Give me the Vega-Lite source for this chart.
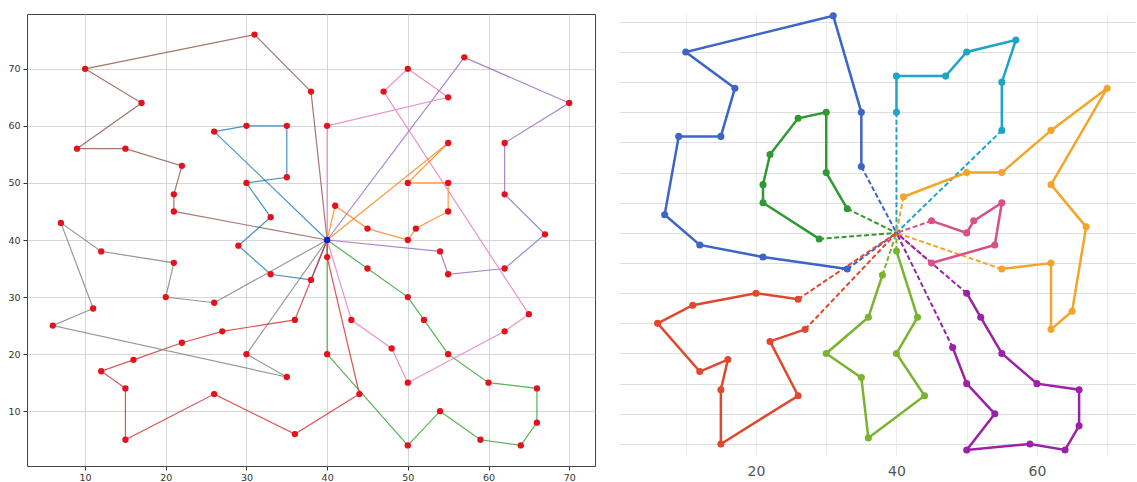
{
  "$schema": "https://vega.github.io/schema/vega-lite/v6.json",
  "padding": {"left": 7, "top": 10, "right": 0, "bottom": 0},
  "background": "white",
  "bounds": "flush",
  "spacing": 24,
  "resolve": {"scale": {"color": "independent"}},
  "config": {
    "font": "DejaVu Sans",
    "axis": {"title": null}
  },
  "datasets": {
    "depot": [{"x": 40, "y": 40}],
    "leftStops": [
      {"route": "r1", "ord": 1, "x": 26, "y": 59},
      {"route": "r1", "ord": 2, "x": 30, "y": 60},
      {"route": "r1", "ord": 3, "x": 35, "y": 60},
      {"route": "r1", "ord": 4, "x": 35, "y": 51},
      {"route": "r1", "ord": 5, "x": 30, "y": 50},
      {"route": "r1", "ord": 6, "x": 33, "y": 44},
      {"route": "r1", "ord": 7, "x": 29, "y": 39},
      {"route": "r1", "ord": 8, "x": 33, "y": 34},
      {"route": "r1", "ord": 9, "x": 38, "y": 33},
      {"route": "r2", "ord": 1, "x": 41, "y": 46},
      {"route": "r2", "ord": 2, "x": 45, "y": 42},
      {"route": "r2", "ord": 3, "x": 50, "y": 40},
      {"route": "r2", "ord": 4, "x": 51, "y": 42},
      {"route": "r2", "ord": 5, "x": 55, "y": 45},
      {"route": "r2", "ord": 6, "x": 55, "y": 50},
      {"route": "r2", "ord": 7, "x": 50, "y": 50},
      {"route": "r2", "ord": 8, "x": 55, "y": 57},
      {"route": "r3", "ord": 1, "x": 45, "y": 35},
      {"route": "r3", "ord": 2, "x": 50, "y": 30},
      {"route": "r3", "ord": 3, "x": 52, "y": 26},
      {"route": "r3", "ord": 4, "x": 55, "y": 20},
      {"route": "r3", "ord": 5, "x": 60, "y": 15},
      {"route": "r3", "ord": 6, "x": 66, "y": 14},
      {"route": "r3", "ord": 7, "x": 66, "y": 8},
      {"route": "r3", "ord": 8, "x": 64, "y": 4},
      {"route": "r3", "ord": 9, "x": 59, "y": 5},
      {"route": "r3", "ord": 10, "x": 54, "y": 10},
      {"route": "r3", "ord": 11, "x": 50, "y": 4},
      {"route": "r3", "ord": 12, "x": 40, "y": 20},
      {"route": "r4", "ord": 1, "x": 36, "y": 26},
      {"route": "r4", "ord": 2, "x": 27, "y": 24},
      {"route": "r4", "ord": 3, "x": 22, "y": 22},
      {"route": "r4", "ord": 4, "x": 16, "y": 19},
      {"route": "r4", "ord": 5, "x": 12, "y": 17},
      {"route": "r4", "ord": 6, "x": 15, "y": 14},
      {"route": "r4", "ord": 7, "x": 15, "y": 5},
      {"route": "r4", "ord": 8, "x": 26, "y": 13},
      {"route": "r4", "ord": 9, "x": 36, "y": 6},
      {"route": "r4", "ord": 10, "x": 44, "y": 13},
      {"route": "r4", "ord": 11, "x": 40, "y": 37},
      {"route": "r5", "ord": 1, "x": 57, "y": 72},
      {"route": "r5", "ord": 2, "x": 70, "y": 64},
      {"route": "r5", "ord": 3, "x": 62, "y": 57},
      {"route": "r5", "ord": 4, "x": 62, "y": 48},
      {"route": "r5", "ord": 5, "x": 67, "y": 41},
      {"route": "r5", "ord": 6, "x": 62, "y": 35},
      {"route": "r5", "ord": 7, "x": 55, "y": 34},
      {"route": "r5", "ord": 8, "x": 54, "y": 38},
      {"route": "r6", "ord": 1, "x": 38, "y": 66},
      {"route": "r6", "ord": 2, "x": 31, "y": 76},
      {"route": "r6", "ord": 3, "x": 10, "y": 70},
      {"route": "r6", "ord": 4, "x": 17, "y": 64},
      {"route": "r6", "ord": 5, "x": 9, "y": 56},
      {"route": "r6", "ord": 6, "x": 15, "y": 56},
      {"route": "r6", "ord": 7, "x": 22, "y": 53},
      {"route": "r6", "ord": 8, "x": 21, "y": 48},
      {"route": "r6", "ord": 9, "x": 21, "y": 45},
      {"route": "r7", "ord": 1, "x": 43, "y": 26},
      {"route": "r7", "ord": 2, "x": 48, "y": 21},
      {"route": "r7", "ord": 3, "x": 50, "y": 15},
      {"route": "r7", "ord": 4, "x": 62, "y": 24},
      {"route": "r7", "ord": 5, "x": 65, "y": 27},
      {"route": "r7", "ord": 6, "x": 47, "y": 66},
      {"route": "r7", "ord": 7, "x": 50, "y": 70},
      {"route": "r7", "ord": 8, "x": 55, "y": 65},
      {"route": "r7", "ord": 9, "x": 40, "y": 60},
      {"route": "r8", "ord": 1, "x": 26, "y": 29},
      {"route": "r8", "ord": 2, "x": 20, "y": 30},
      {"route": "r8", "ord": 3, "x": 21, "y": 36},
      {"route": "r8", "ord": 4, "x": 12, "y": 38},
      {"route": "r8", "ord": 5, "x": 7, "y": 43},
      {"route": "r8", "ord": 6, "x": 11, "y": 28},
      {"route": "r8", "ord": 7, "x": 6, "y": 25},
      {"route": "r8", "ord": 8, "x": 35, "y": 16},
      {"route": "r8", "ord": 9, "x": 30, "y": 20}
    ],
    "rightStops": [
      {"route": "t1", "ord": 1, "x": 35, "y": 51},
      {"route": "t1", "ord": 2, "x": 35, "y": 60},
      {"route": "t1", "ord": 3, "x": 31, "y": 76},
      {"route": "t1", "ord": 4, "x": 10, "y": 70},
      {"route": "t1", "ord": 5, "x": 17, "y": 64},
      {"route": "t1", "ord": 6, "x": 15, "y": 56},
      {"route": "t1", "ord": 7, "x": 9, "y": 56},
      {"route": "t1", "ord": 8, "x": 7, "y": 43},
      {"route": "t1", "ord": 9, "x": 12, "y": 38},
      {"route": "t1", "ord": 10, "x": 21, "y": 36},
      {"route": "t1", "ord": 11, "x": 33, "y": 34},
      {"route": "t2", "ord": 1, "x": 33, "y": 44},
      {"route": "t2", "ord": 2, "x": 30, "y": 50},
      {"route": "t2", "ord": 3, "x": 30, "y": 60},
      {"route": "t2", "ord": 4, "x": 26, "y": 59},
      {"route": "t2", "ord": 5, "x": 22, "y": 53},
      {"route": "t2", "ord": 6, "x": 21, "y": 48},
      {"route": "t2", "ord": 7, "x": 21, "y": 45},
      {"route": "t2", "ord": 8, "x": 29, "y": 39},
      {"route": "t3", "ord": 1, "x": 40, "y": 60},
      {"route": "t3", "ord": 2, "x": 40, "y": 66},
      {"route": "t3", "ord": 3, "x": 47, "y": 66},
      {"route": "t3", "ord": 4, "x": 50, "y": 70},
      {"route": "t3", "ord": 5, "x": 57, "y": 72},
      {"route": "t3", "ord": 6, "x": 55, "y": 65},
      {"route": "t3", "ord": 7, "x": 55, "y": 57},
      {"route": "t4", "ord": 1, "x": 41, "y": 46},
      {"route": "t4", "ord": 2, "x": 50, "y": 50},
      {"route": "t4", "ord": 3, "x": 55, "y": 50},
      {"route": "t4", "ord": 4, "x": 62, "y": 57},
      {"route": "t4", "ord": 5, "x": 70, "y": 64},
      {"route": "t4", "ord": 6, "x": 62, "y": 48},
      {"route": "t4", "ord": 7, "x": 67, "y": 41},
      {"route": "t4", "ord": 8, "x": 65, "y": 27},
      {"route": "t4", "ord": 9, "x": 62, "y": 24},
      {"route": "t4", "ord": 10, "x": 62, "y": 35},
      {"route": "t4", "ord": 11, "x": 55, "y": 34},
      {"route": "t5", "ord": 1, "x": 45, "y": 42},
      {"route": "t5", "ord": 2, "x": 50, "y": 40},
      {"route": "t5", "ord": 3, "x": 51, "y": 42},
      {"route": "t5", "ord": 4, "x": 55, "y": 45},
      {"route": "t5", "ord": 5, "x": 54, "y": 38},
      {"route": "t5", "ord": 6, "x": 45, "y": 35},
      {"route": "t6", "ord": 1, "x": 50, "y": 30},
      {"route": "t6", "ord": 2, "x": 52, "y": 26},
      {"route": "t6", "ord": 3, "x": 55, "y": 20},
      {"route": "t6", "ord": 4, "x": 60, "y": 15},
      {"route": "t6", "ord": 5, "x": 66, "y": 14},
      {"route": "t6", "ord": 6, "x": 66, "y": 8},
      {"route": "t6", "ord": 7, "x": 64, "y": 4},
      {"route": "t6", "ord": 8, "x": 59, "y": 5},
      {"route": "t6", "ord": 9, "x": 50, "y": 4},
      {"route": "t6", "ord": 10, "x": 54, "y": 10},
      {"route": "t6", "ord": 11, "x": 50, "y": 15},
      {"route": "t6", "ord": 12, "x": 48, "y": 21},
      {"route": "t7", "ord": 1, "x": 40, "y": 37},
      {"route": "t7", "ord": 2, "x": 43, "y": 26},
      {"route": "t7", "ord": 3, "x": 40, "y": 20},
      {"route": "t7", "ord": 4, "x": 44, "y": 13},
      {"route": "t7", "ord": 5, "x": 36, "y": 6},
      {"route": "t7", "ord": 6, "x": 35, "y": 16},
      {"route": "t7", "ord": 7, "x": 30, "y": 20},
      {"route": "t7", "ord": 8, "x": 36, "y": 26},
      {"route": "t7", "ord": 9, "x": 38, "y": 33},
      {"route": "t8", "ord": 1, "x": 26, "y": 29},
      {"route": "t8", "ord": 2, "x": 20, "y": 30},
      {"route": "t8", "ord": 3, "x": 11, "y": 28},
      {"route": "t8", "ord": 4, "x": 6, "y": 25},
      {"route": "t8", "ord": 5, "x": 12, "y": 17},
      {"route": "t8", "ord": 6, "x": 16, "y": 19},
      {"route": "t8", "ord": 7, "x": 15, "y": 14},
      {"route": "t8", "ord": 8, "x": 15, "y": 5},
      {"route": "t8", "ord": 9, "x": 26, "y": 13},
      {"route": "t8", "ord": 10, "x": 22, "y": 22},
      {"route": "t8", "ord": 11, "x": 27, "y": 24}
    ]
  },
  "hconcat": [
    {
      "width": 568,
      "height": 452,
      "view": {"stroke": "#444444", "strokeWidth": 1},
      "encoding": {
        "x": {
          "field": "x", "type": "quantitative",
          "scale": {"domain": [2.8, 73.2], "nice": false, "zero": false},
          "axis": {
            "values": [10, 20, 30, 40, 50, 60, 70], "grid": true, "gridColor": "#cccccc", "gridWidth": 0.8,
            "domain": false, "tickSize": 4, "tickColor": "#333333", "labelFontSize": 9.5,
            "labelColor": "#333333", "labelPadding": 2
          }
        },
        "y": {
          "field": "y", "type": "quantitative",
          "scale": {"domain": [0.4, 79.6], "nice": false, "zero": false},
          "axis": {
            "values": [10, 20, 30, 40, 50, 60, 70], "grid": true, "gridColor": "#cccccc", "gridWidth": 0.8,
            "domain": false, "tickSize": 4, "tickColor": "#333333", "labelFontSize": 9.5,
            "labelColor": "#333333", "labelPadding": 3
          }
        }
      },
      "layer": [
        {
          "data": {"name": "leftStops"},
          "transform": [
            {"joinaggregate": [{"op": "min", "field": "ord", "as": "lo"}, {"op": "max", "field": "ord", "as": "hi"}], "groupby": ["route"]},
            {"filter": "datum.ord == datum.lo || datum.ord == datum.hi"}
          ],
          "mark": {"type": "rule", "strokeWidth": 1.2, "opacity": 0.8},
          "encoding": {
            "x2": {"datum": 40},
            "y2": {"datum": 40},
            "color": {
              "field": "route", "type": "nominal", "legend": null,
              "scale": {
                "domain": ["r1", "r2", "r3", "r4", "r5", "r6", "r7", "r8"],
                "range": ["#1f77b4", "#ff7f0e", "#2ca02c", "#d62728", "#9467bd", "#8c564b", "#e377c2", "#7f7f7f"]
              }
            }
          }
        },
        {
          "data": {"name": "leftStops"},
          "mark": {"type": "line", "strokeWidth": 1.2, "opacity": 0.8},
          "encoding": {
            "order": {"field": "ord", "type": "quantitative"},
            "color": {"field": "route", "type": "nominal", "legend": null}
          }
        },
        {
          "data": {"name": "leftStops"},
          "mark": {"type": "circle", "size": 40, "opacity": 1, "color": "#e3121c"}
        },
        {
          "data": {"name": "depot"},
          "mark": {"type": "circle", "size": 42, "opacity": 1, "color": "#1a1ad0"}
        }
      ]
    },
    {
      "width": 517,
      "height": 442,
      "view": {"stroke": null},
      "encoding": {
        "x": {
          "field": "x", "type": "quantitative",
          "scale": {"domain": [0.5, 74.1], "nice": false, "zero": false},
          "axis": {
            "values": [10, 20, 30, 40, 50, 60, 70],
            "labelExpr": "datum.value % 20 == 0 ? datum.label : ''",
            "grid": true, "gridColor": "#ececec", "gridWidth": 1,
            "domain": false, "ticks": false, "labelFontSize": 14,
            "labelColor": "#555555", "labelPadding": 8
          }
        },
        "y": {
          "field": "y", "type": "quantitative",
          "scale": {"domain": [3.0, 76.3], "nice": false, "zero": false},
          "axis": {
            "values": [5, 10, 15, 20, 25, 30, 35, 40, 45, 50, 55, 60, 65, 70, 75],
            "grid": true, "gridColor": "#dedede", "gridWidth": 1,
            "domain": false, "ticks": false, "labels": false
          }
        }
      },
      "layer": [
        {
          "data": {"name": "rightStops"},
          "transform": [
            {"joinaggregate": [{"op": "min", "field": "ord", "as": "lo"}, {"op": "max", "field": "ord", "as": "hi"}], "groupby": ["route"]},
            {"filter": "datum.ord == datum.lo || datum.ord == datum.hi"}
          ],
          "mark": {"type": "rule", "strokeWidth": 2, "strokeDash": [5, 2.5]},
          "encoding": {
            "x2": {"datum": 40},
            "y2": {"datum": 40},
            "color": {
              "field": "route", "type": "nominal", "legend": null,
              "scale": {
                "domain": ["t1", "t2", "t3", "t4", "t5", "t6", "t7", "t8"],
                "range": ["#3d64c8", "#2f9a32", "#1ea5c5", "#f3a52b", "#d94f86", "#9b22a6", "#7ab42f", "#e0482d"]
              }
            }
          }
        },
        {
          "data": {"name": "rightStops"},
          "mark": {"type": "line", "strokeWidth": 2.5},
          "encoding": {
            "order": {"field": "ord", "type": "quantitative"},
            "color": {"field": "route", "type": "nominal", "legend": null}
          }
        },
        {
          "data": {"name": "rightStops"},
          "mark": {"type": "circle", "size": 50, "opacity": 1},
          "encoding": {
            "color": {"field": "route", "type": "nominal", "legend": null}
          }
        }
      ]
    }
  ]
}
